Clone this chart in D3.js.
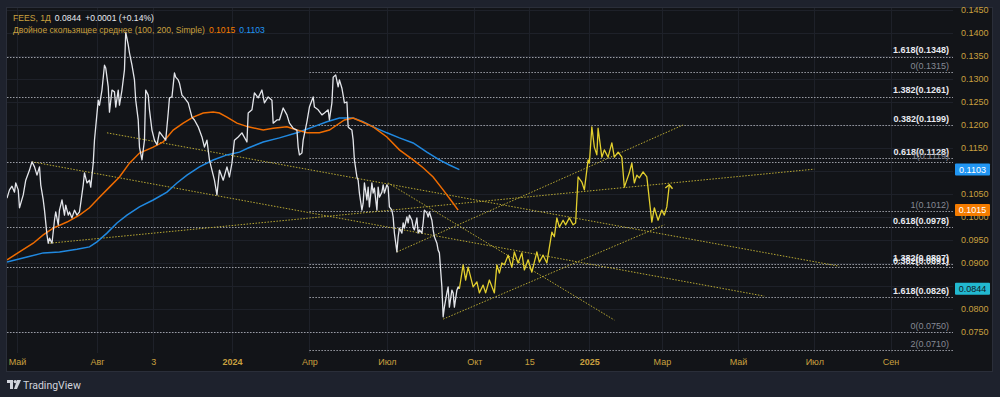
<!DOCTYPE html>
<html>
<head>
<meta charset="utf-8">
<script src="https://cdn.jsdelivr.net/npm/d3@7"></script>
<style>
  html, body { margin: 0; padding: 0; background: #1e222d; }
  svg { display: block; font-family: "Liberation Sans", Arial, sans-serif; }
</style>
</head>
<body>
<svg id="chart" width="1000" height="397"></svg>
<script>
// x is a bar number (one bar = one day on the chart), y is the price
const priceData = [
  [0,.1041],[2,.1059],[4,.1067],[6,.1054],[7,.1074],[9,.1059],[10,.1020],[13,.1048],[15,.1080],[18,.1102],
  [20,.1120],[22,.1109],[24,.1091],[26,.1109],[27,.1070],[29,.1037],[30,.1015],[32,.0961],[33,.0943],[34,.0954],
  [36,.0943],[38,.0993],[39,.1011],[41,.0983],[42,.1015],[44,.1037],[46,.1004],[47,.1026],[49,.1004],[50,.1011],
  [52,.0998],[54,.1015],[56,.1004],[58,.1011],[59,.1030],[61,.1070],[62,.1096],[64,.1074],[66,.1080],[67,.1065],
  [69,.1117],[70,.1167],[71,.1196],[73,.1254],[74,.1243],[76,.1276],[78,.1330],[79,.1324],[81,.1283],[82,.1228],
  [84,.1276],[86,.1272],[87,.1239],[89,.1276],[90,.1243],[92,.1276],[94,.1320],[95,.1402],[97,.1374],[98,.1357],
  [100,.1330],[102,.1298],[103,.1254],[105,.1211],[106,.1152],[108,.1124],[110,.1167],[111,.1276],[113,.1265],[114,.1233],
  [116,.1189],[118,.1167],[120,.1157],[122,.1185],[125,.1174],[127,.1167],[129,.1226],[130,.1259],[132,.1261],[134,.1313],
  [135,.1304],[137,.1298],[138,.1291],[140,.1265],[142,.1259],[145,.1248],[148,.1217],[150,.1211],[153,.1196],[156,.1174],
  [158,.1152],[160,.1167],[162,.1124],[164,.1102],[166,.1080],[168,.1048],[170,.1102],[173,.1080],[176,.1109],[178,.1087],
  [180,.1117],[182,.1167],[185,.1174],[188,.1183],[192,.1163],[193,.1226],[196,.1233],[198,.1270],[201,.1259],[204,.1276],
  [206,.1248],[209,.1261],[212,.1254],[213,.1204],[216,.1211],[218,.1211],[221,.1237],[224,.1222],[226,.1204],[229,.1193],
  [232,.1189],[233,.1152],[234,.1135],[236,.1139],[237,.1167],[240,.1207],[242,.1239],[245,.1261],[246,.1239],[249,.1233],
  [252,.1222],[254,.1226],[257,.1233],[258,.1211],[260,.1248],[261,.1304],[263,.1309],[265,.1283],[266,.1298],[268,.1280],
  [270,.1248],[272,.1250],[273,.1196],[274,.1193],[276,.1189],[277,.1167],[278,.1124],[280,.1087],[281,.1080],[282,.1052],
  [284,.1015],[285,.1030],[286,.1074],[288,.1037],[289,.1065],[290,.1022],[292,.1074],[293,.1052],[294,.1063],[296,.1015],
  [297,.1065],[298,.1043],[300,.1054],[301,.1070],[302,.1052],[304,.1070],[305,.1065],[306,.1022],[308,.1015],[309,.1000],
  [310,.0965],[312,.0924],[313,.0957],[314,.0976],[316,.0965],[317,.0987],[318,.0976],[320,.1000],[321,.0987],[322,.1004],
  [324,.0993],[325,.0978],[326,.0972],[328,.0998],[329,.0965],[330,.0972],[332,.0965],[333,.0987],[334,.1015],[336,.1009],
  [337,.1000],[338,.1011],[340,.0993],[341,.0972],[342,.0957],[344,.0943],[345,.0928],[346,.0922],[348,.0848],[349,.0783],
  [350,.0804],[352,.0835],[353,.0848],[354,.0804],[356,.0841],[357,.0835],[358,.0804],[360,.0841],[361,.0848],[362,.0844]
];

const forecastData = [
  [362,.0844],[365,.0896],[367,.0863],[369,.0891],[372,.0859],[373,.0848],[376,.0859],[378,.0835],[381,.0852],[383,.0835],
  [386,.0863],[390,.0835],[392,.0896],[394,.0878],[396,.0900],[398,.0896],[401,.0917],[404,.0891],[406,.0924],[409,.0900],
  [412,.0922],[414,.0885],[417,.0907],[420,.0880],[424,.0924],[426,.0902],[429,.0917],[432,.0900],[433,.0917],[436,.0967],
  [438,.0957],[440,.0998],[442,.0978],[445,.0993],[447,.0983],[450,.0998],[453,.0983],[455,.0987],[457,.1087],[460,.1076],
  [462,.1059],[465,.1124],[466,.1117],[468,.1196],[470,.1152],[472,.1135],[473,.1193],[476,.1130],[478,.1146],[481,.1130],
  [484,.1161],[486,.1130],[489,.1141],[492,.1130],[494,.1065],[498,.1096],[500,.1117],[502,.1074],[504,.1091],[506,.1085],
  [509,.1098],[512,.1087],[516,.0989],[518,.1020],[521,.0993],[524,.1015],[526,.1004],[528,.1022],[530,.1070]
];

const sma100 = [
  [0,.0907],[10,.0924],[21,.0943],[29,.0961],[37,.0976],[48,.0989],[58,.1004],[66,.1020],[74,.1043],[82,.1065],
  [90,.1087],[98,.1117],[106,.1139],[117,.1152],[125,.1163],[133,.1189],[141,.1204],[149,.1217],[157,.1226],[165,.1228],
  [170,.1226],[176,.1217],[184,.1204],[193,.1196],[205,.1189],[213,.1193],[224,.1196],[232,.1189],[240,.1183],[250,.1183],
  [258,.1189],[264,.1200],[270,.1211],[277,.1215],[284,.1207],[293,.1196],[304,.1174],[314,.1146],[325,.1124],[333,.1107],
  [341,.1087],[349,.1059],[357,.1030],[361,.1015]
];

const sma200 = [
  [0,.0902],[16,.0913],[29,.0922],[42,.0924],[56,.0930],[66,.0935],[72,.0946],[80,.0965],[88,.0987],[96,.1004],
  [106,.1022],[117,.1037],[128,.1054],[136,.1074],[144,.1091],[154,.1109],[165,.1124],[176,.1135],[186,.1141],[193,.1150],
  [205,.1163],[218,.1172],[232,.1183],[245,.1196],[256,.1207],[266,.1215],[277,.1215],[285,.1207],[293,.1196],[304,.1183],
  [314,.1172],[325,.1161],[336,.1141],[346,.1124],[354,.1113],[362,.1103]
];

// trend lines: [bar1, price1, bar2, price2]
const trendLines = [
  [20,.1120,606,.0828],
  [80,.1183,666,.0893],
  [34,.0943,646,.1104],
  [312,.0924,541,.1200],
  [349,.0778,526,.0983],
  [305,.1074,486,.0776]
];

// two Fibonacci retracements
const fibA = [["0",.1315],["0.382",.1199],["0.618",.1128],["1",.1012],["1.382",.0897],["1.618",.0826],["2",.0710]];
const fibAStart = 242;
const fibB = [["0",.0750],["0.382",.0891],["0.618",.0978],["1",.1119],["1.382",.1261],["1.618",.1348]];
const fibBStart = 0;

const priceTicks = [.075,.080,.085,.090,.095,.100,.105,.110,.115,.120,.125,.130,.135,.140,.145];
const timeTickBars = [8,72,117,180,242,304,374,418,466,524,585,646,707];
const timeTickLabels = ["Май","Авг","3","2024","Апр","Июл","Окт","15","2025","Мар","Май","Июл","Сен"];

const lastPrice = 0.0844, lastSma100 = 0.1015, lastSma200 = 0.1103;

const svg = d3.select("#chart");
const plotLeft = 7, plotRight = 953, plotTop = 8, plotBottom = 353;
const gold = "#c9a03f";

const x = d3.scaleLinear().domain([0, 757]).range([plotLeft, plotRight]);
const y = d3.scaleLinear().domain([0.075, 0.145]).range([332, 10]);

// panel
svg.append("rect").attr("x", 0).attr("y", 0).attr("width", 1000).attr("height", 397).attr("fill", "#1e222d");
svg.append("rect").attr("x", plotLeft - 0.5).attr("y", plotTop - 0.5).attr("width", 993 - plotLeft).attr("height", 372 - plotTop)
  .attr("fill", "#121418").attr("stroke", "#2a2e39");

svg.append("clipPath").attr("id", "plot")
  .append("rect").attr("x", plotLeft).attr("y", plotTop).attr("width", plotRight - plotLeft).attr("height", plotBottom - plotTop);

// grid
const grid = svg.append("g").attr("clip-path", "url(#plot)");
grid.selectAll(".vg").data(timeTickBars).enter().append("line")
  .attr("x1", d => Math.round(x(d)) + 0.5).attr("x2", d => Math.round(x(d)) + 0.5)
  .attr("y1", plotTop).attr("y2", plotBottom).attr("stroke", "#1e2129");
grid.selectAll(".hg").data(priceTicks).enter().append("line")
  .attr("x1", plotLeft).attr("x2", plotRight)
  .attr("y1", d => Math.round(y(d)) + 0.5).attr("y2", d => Math.round(y(d)) + 0.5).attr("stroke", "#1e2129");

const plot = svg.append("g").attr("clip-path", "url(#plot)");

// fib levels
function drawFib(levels, start) {
  const g = plot.append("g");
  g.selectAll("line").data(levels).enter().append("line")
    .attr("x1", x(start)).attr("x2", plotRight)
    .attr("y1", d => Math.round(y(d[1])) + 0.5).attr("y2", d => Math.round(y(d[1])) + 0.5)
    .attr("stroke", "#9a9ca4").attr("stroke-width", 1).attr("stroke-dasharray", "1.5,1.5");
  g.selectAll("text").data(levels).enter().append("text")
    .attr("x", 949).attr("y", d => y(d[1]) - 3.5)
    .attr("text-anchor", "end").attr("font-size", 9)
    .attr("fill", d => ["0","1","2"].includes(d[0]) ? "#868993" : "#e8eaf0")
    .attr("font-weight", d => ["0","1","2"].includes(d[0]) ? "normal" : "bold")
    .text(d => d[0] + "(" + d[1].toFixed(4) + ")");
}
drawFib(fibA, fibAStart);
drawFib(fibB, fibBStart);

// trend lines
plot.selectAll(".trend").data(trendLines).enter().append("line")
  .attr("x1", d => x(d[0])).attr("y1", d => y(d[1]))
  .attr("x2", d => x(d[2])).attr("y2", d => y(d[3]))
  .attr("stroke", "#b8a833").attr("stroke-width", 1).attr("stroke-dasharray", "1.5,1.5");

const line = d3.line().x(d => x(d[0])).y(d => y(d[1]));

plot.append("path").datum(sma200).attr("d", line)
  .attr("fill", "none").attr("stroke", "#2189e0").attr("stroke-width", 1.5);
plot.append("path").datum(sma100).attr("d", line)
  .attr("fill", "none").attr("stroke", "#ef6c00").attr("stroke-width", 1.5);
plot.append("path").datum(priceData).attr("d", line)
  .attr("fill", "none").attr("stroke", "#e3e5ea").attr("stroke-width", 1.3).attr("stroke-linejoin", "round");

// forecast path with arrow
svg.append("defs").append("marker").attr("id", "arrow")
  .attr("viewBox", "0 0 10 10").attr("refX", 5).attr("refY", 5)
  .attr("markerWidth", 7).attr("markerHeight", 7).attr("orient", "auto")
  .append("path").attr("d", "M1,1 L5,5 L1,9").attr("fill", "none")
  .attr("stroke", "#e2cf2e").attr("stroke-width", 1.6);
plot.append("path").datum(forecastData).attr("d", line)
  .attr("fill", "none").attr("stroke", "#e2cf2e").attr("stroke-width", 1.3)
  .attr("stroke-linejoin", "round").attr("marker-end", "url(#arrow)");

// last value tags
const tags = [[lastSma200, "#2196f3", "#ffffff"], [lastSma100, "#f57c00", "#ffffff"], [lastPrice, "#22b8d0", "#131722"]];

// price axis (labels fully hidden under a tag are left out)
const visibleTicks = priceTicks.filter(t => !tags.some(tag => Math.abs(y(t) - y(tag[0])) < 4));
const yAxis = svg.append("g").attr("transform", "translate(958,0)")
  .call(d3.axisRight(y).tickValues(visibleTicks).tickFormat(d3.format(".4f")).tickSize(0));
yAxis.select(".domain").remove();
yAxis.selectAll("text").attr("fill", gold).attr("font-size", 9)
  .attr("font-family", "Liberation Sans, Arial, sans-serif");

// time axis
const xAxis = svg.append("g").attr("transform", "translate(0,356)")
  .call(d3.axisBottom(x).tickValues(timeTickBars).tickFormat((d, i) => timeTickLabels[i]).tickSize(0));
xAxis.select(".domain").remove();
xAxis.selectAll("text").attr("fill", gold).attr("font-size", 9)
  .attr("font-family", "Liberation Sans, Arial, sans-serif")
  .attr("font-weight", (d, i) => /^\d{4}$/.test(timeTickLabels[i]) ? "bold" : "normal");

const tg = svg.selectAll(".tag").data(tags).enter().append("g");
tg.append("rect").attr("x", 955).attr("y", d => y(d[0]) - 6).attr("width", 35).attr("height", 12)
  .attr("rx", 1).attr("fill", d => d[1]);
tg.append("text").attr("x", 972.5).attr("y", d => y(d[0]) + 3.2).attr("text-anchor", "middle")
  .attr("font-size", 9).attr("fill", d => d[2]).text(d => d[0].toFixed(4));

// legend
const l1 = svg.append("text").attr("x", 13).attr("y", 20.5).attr("font-size", 8.6);
l1.append("tspan").attr("fill", gold).text("FEES, 1Д");
l1.append("tspan").attr("fill", "#e8eaf0").attr("dx", 4).text(lastPrice.toFixed(4));
l1.append("tspan").attr("fill", "#e8eaf0").attr("dx", 4).text("+0.0001 (+0.14%)");
const l2 = svg.append("text").attr("x", 13).attr("y", 32.5).attr("font-size", 8.6);
l2.append("tspan").attr("fill", gold).text("Двойное скользящее среднее (100, 200, Simple)");
l2.append("tspan").attr("fill", "#f57c00").attr("dx", 4).text(lastSma100.toFixed(4));
l2.append("tspan").attr("fill", "#2196f3").attr("dx", 4).text(lastSma200.toFixed(4));

// TradingView logo
const logo = svg.append("g").attr("transform", "translate(7,380)");
logo.append("path").attr("d", "M0,0 H6 V9 H3 V3 H0 Z").attr("fill", "#d1d4dc");
logo.append("circle").attr("cx", 8.2).attr("cy", 1.6).attr("r", 1.6).attr("fill", "#d1d4dc");
logo.append("path").attr("d", "M10,0 H14 L10,9 H7 Z").attr("fill", "#d1d4dc");
svg.append("text").attr("x", 23).attr("y", 388.5).attr("font-size", 10.5).attr("fill", "#d1d4dc")
  .attr("font-family", "Roboto, sans-serif").text("TradingView");
</script>
</body>
</html>
